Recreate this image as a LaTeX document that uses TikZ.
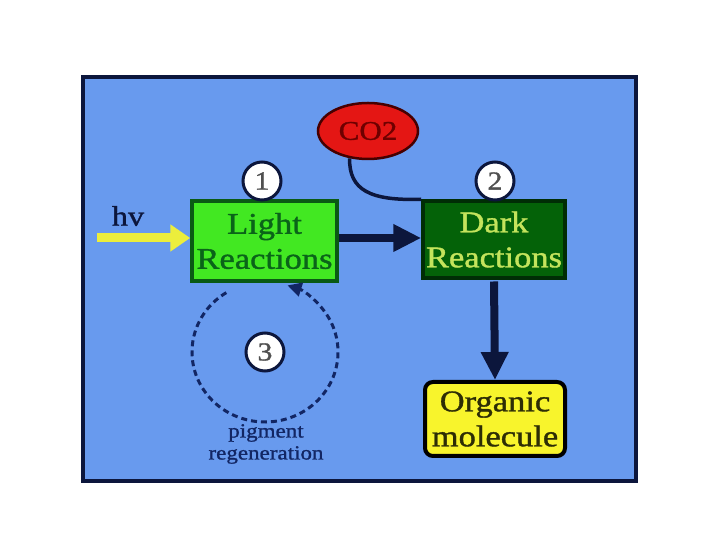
\documentclass[tikz,border=0pt]{standalone}
\usepackage{fontspec}
\setmainfont{Liberation Serif}
\newfontfamily\wideserif[FakeStretch=1.15,FakeBold=1.2]{Liberation Serif}
\usetikzlibrary{arrows.meta,shapes.geometric}
\definecolor{panelblue}{RGB}{104,154,238}
\definecolor{navy}{RGB}{12,22,60}
\definecolor{lgfill}{RGB}{66,232,34}
\definecolor{lgdraw}{RGB}{10,90,20}
\definecolor{lgtext}{RGB}{10,100,25}
\definecolor{dgfill}{RGB}{4,98,8}
\definecolor{dgdraw}{RGB}{0,45,5}
\definecolor{dgtext}{RGB}{196,228,92}
\definecolor{cored}{RGB}{228,22,20}
\definecolor{codraw}{RGB}{70,0,0}
\definecolor{cotext}{RGB}{110,0,0}
\definecolor{hvyellow}{RGB}{236,238,60}
\definecolor{orgfill}{RGB}{248,244,44}
\definecolor{orgtext}{RGB}{45,45,5}
\definecolor{numgray}{RGB}{80,80,80}
\definecolor{dashnavy}{RGB}{18,38,100}
\tikzset{
  stepbox/.style={rectangle, line width=3.5pt, align=center, inner sep=0pt,
    font=\wideserif\fontsize{30}{35}\selectfont},
  numcirc/.style={circle, fill=white, draw=navy, line width=3pt, minimum size=38pt,
    inner sep=0pt, text=numgray, font=\wideserif\fontsize{26}{26}\selectfont},
  bigarrow/.style={draw=navy, line width=8pt, -{Triangle[length=28pt,width=26pt]}},
}
\begin{document}
\begin{tikzpicture}[x=1pt,y=1pt]
\useasboundingbox (0,0) rectangle (720,540);
\fill[white] (0,0) rectangle (720,540);
% panel
\draw[fill=panelblue, draw=navy, line width=4.5pt] (83,59) rectangle (636,463);
% CO2 connector (drawn first, behind the ellipse)
\coordinate (cocenter) at (368,409);
% boxes
\node[stepbox, fill=lgfill, draw=lgdraw, text=lgtext, minimum width=145pt, minimum height=80pt]
  (light) at (264.5,299) {Light\\Reactions};
\node[stepbox, fill=dgfill, draw=dgdraw, text=dgtext, minimum width=142pt, minimum height=77pt]
  (dark) at (494,300.5) {Dark\\Reactions};
\node[stepbox, rounded corners=8pt, fill=orgfill, draw=black, line width=4pt, text=orgtext,
  minimum width=140pt, minimum height=74pt] (org) at (495,121) {Organic\\molecule};
% CO2
\node[ellipse, fill=cored, draw=codraw, line width=2.5pt, minimum width=100pt, minimum height=56pt,
  inner sep=0pt, text=cotext, font=\wideserif\fontsize{27}{27}\selectfont] (co2) at (cocenter) {CO2};
\draw[draw=navy, line width=3.5pt] (co2.236)
  .. controls (349,350) and (370,339) .. (dark.north west);
% number circles
\node[numcirc] (n1) at (262,359) {1};
\node[numcirc] (n2) at (495,359) {2};
% pigment regeneration cycle
\coordinate (cyc) at (265,188);
\draw[draw=dashnavy, line width=3pt, dash pattern=on 6pt off 4pt,
  -{Triangle[length=14pt,width=14pt]}]
  ([shift={(122:73pt and 70pt)}]cyc) arc[start angle=122, end angle=432, x radius=73, y radius=70];
\node[numcirc] (n3) at (265,188) {3};
\node[align=center, text=dashnavy, font=\wideserif\fontsize{20}{22}\selectfont] (pig) at (266,96)
  {pigment\\regeneration};
% hv arrow
\node[text=navy, font=\wideserif\fontsize{28}{28}\selectfont] (hv) at (128,324) {hv};
\coordinate (hvstart) at (97,302);
\draw[draw=hvyellow, line width=9pt, -{Triangle[length=20pt,width=26pt]}] (hvstart) -- (light.west |- hvstart);
% main arrows
\draw[bigarrow] (light.east |- 0,302) -- (dark.west |- 0,302);
\draw[bigarrow] ([yshift=-1.75pt]dark.south) -- (org.north);
\end{tikzpicture}
\end{document}
